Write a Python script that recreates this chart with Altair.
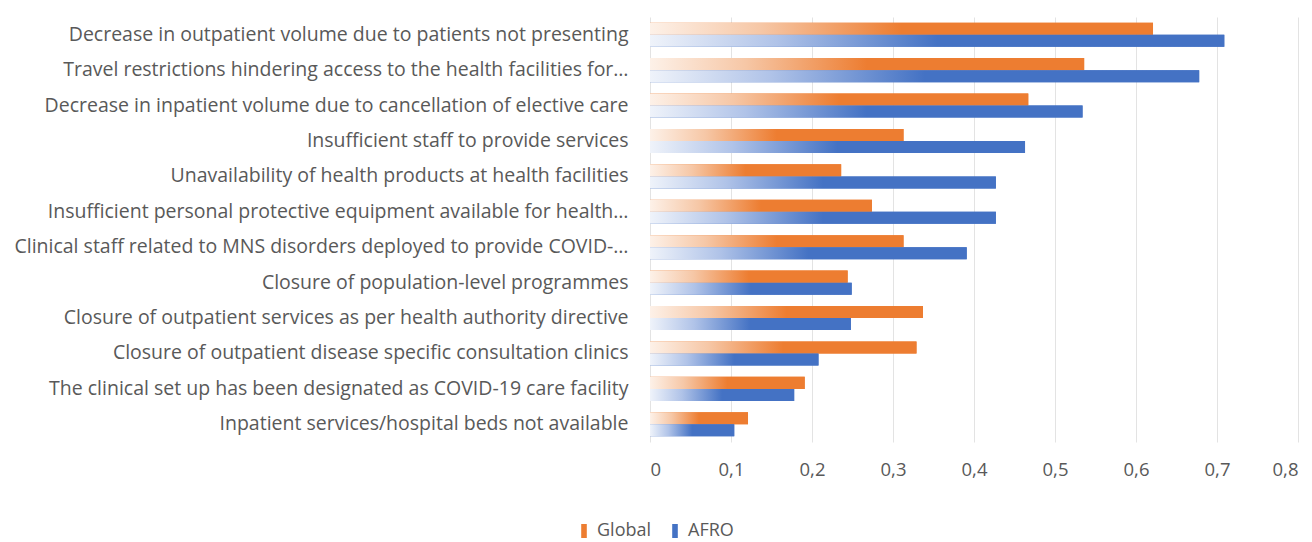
import altair as alt
import pandas as pd

categories = [
    "Decrease in outpatient volume due to patients not presenting",
    "Travel restrictions hindering access to the health facilities for…",
    "Decrease in inpatient volume due to cancellation of elective care",
    "Insufficient staff to provide services",
    "Unavailability of health products at health facilities",
    "Insufficient personal protective equipment available for health…",
    "Clinical staff related to MNS disorders deployed to provide COVID-…",
    "Closure of population-level programmes",
    "Closure of outpatient services as per health authority directive",
    "Closure of outpatient disease specific consultation clinics",
    "The clinical set up has been designated as COVID-19 care facility",
    "Inpatient services/hospital beds not available",
]
global_vals = [0.621, 0.536, 0.467, 0.313, 0.236, 0.274, 0.313, 0.244, 0.337, 0.329, 0.191, 0.121]
afro_vals = [0.709, 0.678, 0.534, 0.463, 0.427, 0.427, 0.391, 0.249, 0.248, 0.208, 0.178, 0.104]
series = ["Global", "AFRO"]
tick_values = [0, 0.1, 0.2, 0.3, 0.4, 0.5, 0.6, 0.7, 0.8]

rows = []
for c, g, a in zip(categories, global_vals, afro_vals):
    rows.append({"category": c, "series": "Global", "value": g})
    rows.append({"category": c, "series": "AFRO", "value": a})
df = pd.DataFrame(rows)

ORANGE = "#ED7D31"
BLUE = "#4472C4"
FONT = "Open Sans"
TXT = "#595959"

y_enc = alt.Y(
    "category:N",
    sort=categories,
    scale=alt.Scale(paddingInner=0.32, paddingOuter=0.16),
    axis=alt.Axis(title=None, labelLimit=900, labelFontSize=19.5, labelPadding=22,
                  ticks=False, domain=False, labelColor=TXT, labelFont=FONT),
)
x_enc = alt.X(
    "value:Q",
    scale=alt.Scale(domain=[0, 0.8], nice=False),
    axis=alt.Axis(title=None, values=tick_values,
                  labelExpr="datum.value == 0 ? '0' : replace(format(datum.value, '.1f'), '.', ',')",
                  grid=True, gridColor="#e3e3e3", ticks=False, domain=False,
                  labelFontSize=18.5, labelPadding=18, labelColor=TXT, labelFont=FONT),
)
yoff = alt.YOffset("series:N", sort=series,
                   scale=alt.Scale(domain=series, paddingInner=0, paddingOuter=0))

base = alt.Chart(df)

legend_layer = base.mark_bar().encode(
    y=y_enc, x=x_enc, yOffset=yoff,
    color=alt.Color("series:N", sort=series,
                    scale=alt.Scale(domain=series, range=[ORANGE, BLUE]),
                    legend=alt.Legend(orient="none", legendX=-75, legendY=505, direction="horizontal",
                                      title=None, symbolType="M-0.4,-1H0.4V1H-0.4Z", symbolSize=196,
                                      labelFontSize=18, labelColor=TXT, labelFont=FONT, padding=0,
                                      columnPadding=14, symbolStrokeWidth=0)),
)

def grad(light, mid, full):
    return alt.Gradient(
        gradient="linear", x1=0, x2=1, y1=0, y2=0,
        stops=[alt.GradientStop(color=light, offset=0),
               alt.GradientStop(color=mid, offset=0.22),
               alt.GradientStop(color=full, offset=0.5),
               alt.GradientStop(color=full, offset=1)],
    )

g_layer = base.transform_filter(alt.datum.series == "Global").mark_bar(
    color=grad("#fdf1e8", "#f6c7a6", ORANGE)
).encode(y=y_enc, x=x_enc, yOffset=yoff)

a_layer = base.transform_filter(alt.datum.series == "AFRO").mark_bar(
    color=grad("#eff3fa", "#b0c3e8", BLUE)
).encode(y=y_enc, x=x_enc, yOffset=yoff)

chart = alt.layer(legend_layer, g_layer, a_layer).properties(
    width=648, height=425,
    padding={"left": 5, "top": 9, "right": 5, "bottom": 0},
).configure_view(stroke=None)

chart.save("out.html", embed_options={"renderer": "svg", "actions": False})
